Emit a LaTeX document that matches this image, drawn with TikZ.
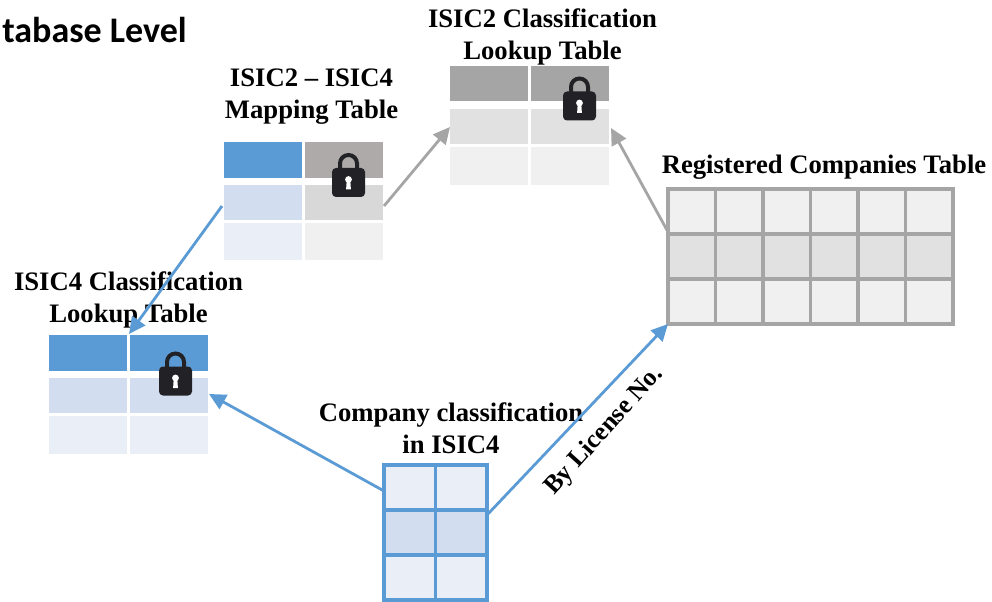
\documentclass[tikz,border=0pt]{standalone}
\usepackage{fontspec}
\setmainfont{Liberation Serif}
\newfontfamily\titlefont{Carlito}
\usetikzlibrary{arrows.meta}
\definecolor{bluehead}{HTML}{5B9BD5}
\definecolor{bluemid}{HTML}{D2DDEF}
\definecolor{bluelow}{HTML}{EAEEF7}
\definecolor{greymap}{HTML}{AEAAAA}
\definecolor{greymapmid}{HTML}{D8D8D8}
\definecolor{greyhead}{HTML}{A5A5A5}
\definecolor{greymid}{HTML}{E1E1E1}
\definecolor{greylow}{HTML}{F0F0F0}
\definecolor{lockcol}{HTML}{222226}
\tikzset{
  x=0.75pt,y=-0.75pt,
  lbl/.style={font=\bfseries\fontsize{20}{24}\selectfont,align=center,text=black,inner sep=0},
  bluearrow/.style={draw=bluehead,line width=2.1pt,-{Triangle[length=12.5pt,width=12pt]}},
  greyarrow/.style={draw=greyhead,line width=2.1pt,-{Triangle[length=12.5pt,width=12pt]}},
  gridblue/.style={draw=bluehead,line width=2.3pt},
  gridgrey/.style={draw=greyhead,line width=2.3pt},
  lockpic/.pic={
    \draw[lockcol,line width=3pt] (-8.5,-13) -- (-8.5,-19) arc[start angle=180,end angle=360,radius=8.5] -- (8.5,-13);
    \fill[lockcol,rounded corners=3pt] (-16.5,-14.5) rectangle (16.5,14.5);
    \fill[white] (0,-3) circle[radius=3.4];
    \fill[white] (-1.8,-2) -- (1.8,-2) -- (2.4,7) -- (-2.4,7) -- cycle;
  }
}
\begin{document}
\begin{tikzpicture}
\useasboundingbox (0,0) rectangle (992,602);

% Mapping table
\fill[bluehead] (224,142) rectangle (302,178);
\fill[greymap] (305,142) rectangle (383,178);
\fill[bluemid] (224,185) rectangle (302,220);
\fill[greymapmid] (305,185) rectangle (383,220);
\fill[bluelow] (224,223) rectangle (302,260);
\fill[greylow] (305,223) rectangle (383,260);
\coordinate (mapL) at (222,206);
\coordinate (mapR) at (384,206);
\pic at (348.5,182.5) {lockpic};

% ISIC2 table
\fill[greyhead] (450,66) rectangle (528,101);
\fill[greyhead] (531,66) rectangle (609,101);
\fill[greymid] (450,109) rectangle (528,144);
\fill[greymid] (531,109) rectangle (609,144);
\fill[greylow] (450,147) rectangle (528,185);
\fill[greylow] (531,147) rectangle (609,185);
\coordinate (twoL) at (450,127);
\coordinate (twoR) at (611,128);
\pic at (579.5,106) {lockpic};

% ISIC4 table
\fill[bluehead] (49,335) rectangle (127,371);
\fill[bluehead] (130,335) rectangle (208,371);
\fill[bluemid] (49,378) rectangle (127,413);
\fill[bluemid] (130,378) rectangle (208,413);
\fill[bluelow] (49,416) rectangle (127,454);
\fill[bluelow] (130,416) rectangle (208,454);
\coordinate (fourT) at (129,334);
\coordinate (fourR) at (209,394);
\pic at (175.5,381) {lockpic};

% Company table
\fill[bluelow] (384,465) rectangle (487,600);
\fill[bluemid] (384,510) rectangle (487,555);
\draw[gridblue] (384,465) rectangle (487,600);
\draw[gridblue] (435.5,465) -- (435.5,600);
\draw[gridblue] (384,510) -- (487,510);
\draw[gridblue] (384,555) -- (487,555);
\coordinate (compL) at (384,491);
\coordinate (compR) at (487,515);

% Registered table
\fill[greylow] (668,189) rectangle (953,324);
\fill[greymid] (668,234) rectangle (953,279);
\draw[gridgrey] (668,189) rectangle (953,324);
\foreach \xx in {715.5,763,810.5,858,905.5} \draw[gridgrey] (\xx,189) -- (\xx,324);
\draw[gridgrey] (668,234) -- (953,234);
\draw[gridgrey] (668,279) -- (953,279);
\coordinate (regTL) at (668,232);
\coordinate (regBL) at (668,324);

% Labels
\node[anchor=east,font=\titlefont\bfseries\fontsize{27}{30}\selectfont,inner sep=0] (title) at (187,30) {tabase Level};
\node[lbl] (lblmap) at (311.5,96.5) {ISIC2 – ISIC4\\Mapping Table};
\node[lbl] (lbltwo) at (542.5,36.5) {ISIC2 Classification\\Lookup Table};
\node[lbl] (lblfour) at (128.5,300) {ISIC4 Classification\\Lookup Table};
\node[lbl] (lblreg) at (824,167) {Registered Companies Table};
\node[lbl] (lblcomp) at (451,428.5) {Company classification\\in ISIC4};
\node[lbl,rotate=48,font=\bfseries\fontsize{19.3}{24}\selectfont] (lbllic) at (604.5,431) {By License No.};

% Arrows
\draw[bluearrow] (mapL) -- (fourT);
\draw[greyarrow] (mapR) -- (twoL);
\draw[greyarrow] (regTL) -- (twoR);
\draw[bluearrow] (compL) -- (fourR);
\draw[bluearrow] (compR) -- (regBL);
\end{tikzpicture}
\end{document}
